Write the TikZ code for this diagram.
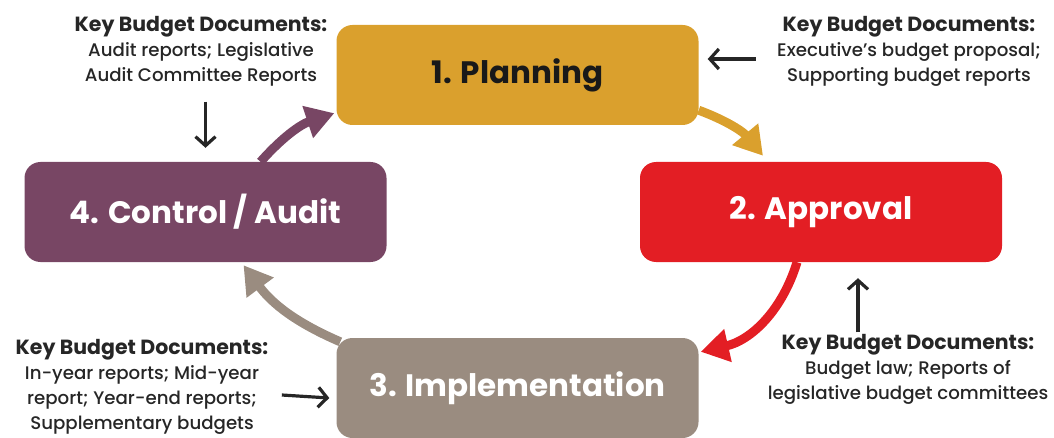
\documentclass[tikz,border=0pt]{standalone}
\usepackage{fontspec}
\setmainfont{Poppins}
\newfontfamily\docfont{Poppins Medium}[Ligatures=TeX]
\usepackage{xcolor}
\usetikzlibrary{positioning,calc,arrows.meta}

\definecolor{plangold}{RGB}{218,160,45}
\definecolor{apprred}{RGB}{227,30,36}
\definecolor{implgray}{RGB}{154,140,128}
\definecolor{ctrlpurple}{RGB}{120,70,100}

\begin{document}
\begin{tikzpicture}[x=1pt, y=1pt,
    stage/.style={rounded corners=16pt, minimum width=362pt, minimum height=100pt, inner sep=0pt,
        font=\fontsize{31}{36}\selectfont\bfseries},
    docs/.style={align=center, text=black!85, font=\fontsize{18.2}{25}\selectfont\docfont},
    looparrow/.style={line width=9pt, -{Triangle[length=28pt,width=32pt]}},
    docarrow/.style={line width=3.2pt, black!85, -{Straight Barb[length=9pt,width=20pt]}}]

    \useasboundingbox (0,0) rectangle (1054,437);

    % Stages
    \node[stage, fill=plangold, text=black!90] (plan) at (517.5,362) {1. Planning};
    \node[stage, fill=apprred, text=white] (appr) at (821,225) {2. Approval};
    \node[stage, fill=implgray, text=white] (impl) at (517.5,49) {3. Implementation};
    \node[stage, fill=ctrlpurple, text=white] (ctrl) at (205.5,225) {4. Control / Audit};

    % Cycle arrows
    \draw[looparrow, plangold] (plan.-11) to[bend left=15] ($(appr.north)+(-58,6)$);
    \draw[looparrow, apprred] ($(appr.south)+(-24,0)$) to[bend left=30] ($(impl.north east)+(2,-14)$);
    \draw[looparrow, implgray] ($(impl.north west)+(4,-4)$) to[bend left=15] ($(ctrl.south)+(38,-3)$);
    \draw[looparrow, ctrlpurple] ($(ctrl.north)+(55,0)$) to[bend left=15] ($(plan.south west)+(-2,12)$);

    % Key documents
    \node[docs] (kd1) at (909,386) {{\fontsize{20.5}{25}\selectfont\rmfamily\bfseries Key Budget Documents:}\\Executive’s budget proposal;\\Supporting budget reports};
    \node[docs] (kd2) at (908,68) {{\fontsize{20.5}{25}\selectfont\rmfamily\bfseries Key Budget Documents:}\\Budget law; Reports of\\legislative budget committees};
    \node[docs] (kd3) at (142,50) {{\fontsize{20.5}{25}\selectfont\rmfamily\bfseries Key Budget Documents:}\\In-year reports; Mid-year\\report; Year-end reports;\\Supplementary budgets};
    \node[docs] (kd4) at (201,386) {{\fontsize{20.5}{25}\selectfont\rmfamily\bfseries Key Budget Documents:}\\Audit reports; Legislative\\Audit Committee Reports};

    % Document arrows
    \draw[docarrow] ($(kd1.west)+(-18,-8)$) -- ($(kd1.west -| plan.east)+(9,-8)$);
    \draw[docarrow] ($(kd2.north -| appr.south)+(37,-2)$) -- ($(appr.south)+(37,-16)$);
    \draw[docarrow] ($(kd3.east)+(10,-8)$) -- ($(impl.west)+(-7,-10)$);
    \draw[docarrow] ($(kd4.south -| ctrl.north)+(0,-12)$) -- ($(ctrl.north)+(0,14)$);
\end{tikzpicture}
\end{document}
